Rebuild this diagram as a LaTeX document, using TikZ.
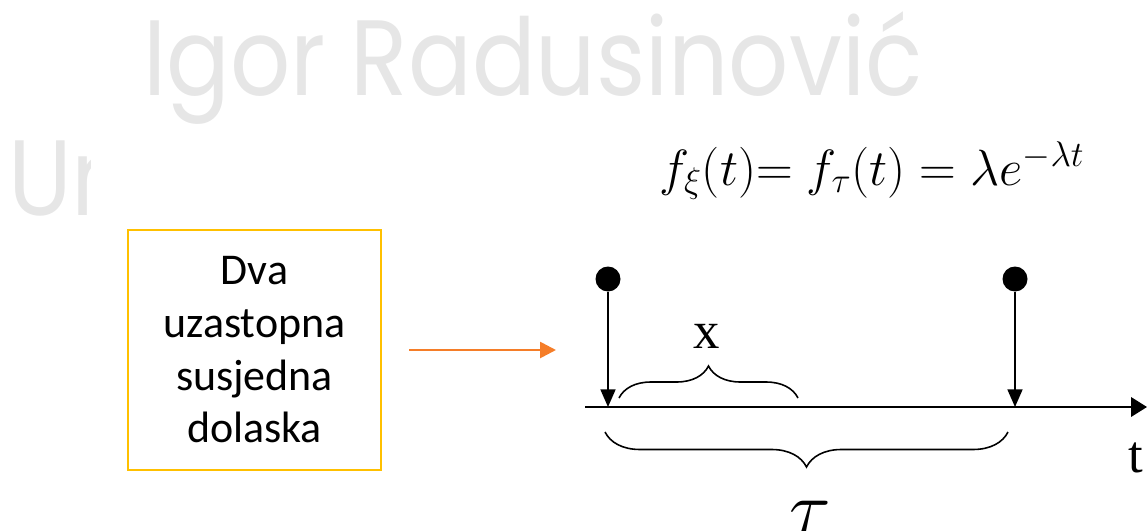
\RequirePackage{fix-cm}
\documentclass[tikz,border=0pt]{standalone}
\usepackage{amsmath}
\usepackage{fontspec}
\usepackage{xcolor}
\usepackage{tikz}
\usetikzlibrary{positioning,arrows.meta,calc,decorations.pathreplacing}
\newfontfamily\boxfont{Carlito}
\newfontfamily\markfont{Poppins}
\newfontfamily\labfont{Liberation Serif}
\definecolor{boxgold}{RGB}{255,192,0}
\definecolor{arrorange}{RGB}{245,125,40}
\definecolor{markgray}{RGB}{230,230,230}

\begin{document}
\begin{tikzpicture}[x=0.02cm, y=-0.02cm,
  dot/.style={circle, fill=black, inner sep=0pt, minimum size=0.5cm},
  drop/.style={-{Triangle[length=10pt,width=8.5pt]}, line width=1pt},
  curly/.style={decorate, decoration={brace, amplitude=#1}, line width=0.9pt},
  watermark/.style={markgray, font=\markfont\fontsize{61}{61}\selectfont, anchor=base west,
    inner sep=0pt, xscale=0.88, transform shape}
]
\useasboundingbox (0,0) rectangle (1147,531);
% watermark
\node[watermark] (markA) at (143,95) {Igor Radusinović};
\begin{scope}
  \clip (0,120) rectangle (90,240);
  \node[watermark] (markB) at (8,215) {Un};
\end{scope}
% density
\node[anchor=base, font=\fontsize{29}{34}\selectfont] (pdf) at (872,185)
  {$f_{\xi}(t){=}\;f_{\tau}(t) = \lambda e^{-\lambda t}$};
% box with arrow
\node[draw=boxgold, line width=1.4pt, minimum width=5.06cm, minimum height=4.8cm,
  align=center, font=\boxfont\fontsize{25}{30}\selectfont] (pair) at (254.5,350)
  {Dva\\uzastopna\\susjedna\\dolaska};
\coordinate (goal) at (556,350);
\draw[-{Triangle[length=9pt,width=9pt]}, arrorange, line width=1.5pt, shorten <=0.54cm] (pair.east) -- (goal);
% time axis
\coordinate (t0) at (585,407);
\coordinate (tend) at (1147,407);
\draw[-{Triangle[length=9pt,width=11pt]}, line width=1.1pt] (t0) -- (tend);
\node[anchor=base, font=\labfont\fontsize{30}{30}\selectfont, inner sep=0pt] (tlab) at (1136,472) {t};
% two arrivals
\node[dot] (arrA) at (608,279) {};
\node[dot] (arrB) at (1015,279) {};
\coordinate (hitA) at (608,407);
\coordinate (hitB) at (1015,407);
\draw[drop] (arrA) -- (hitA);
\draw[drop] (arrB) -- (hitB);
% braces
\draw[curly=0.64cm] (619,398) -- (798,398);
\node[anchor=base, font=\labfont\fontsize{30}{30}\selectfont, inner sep=0pt] (xlab) at (707,348) {x};
\draw[curly=0.7cm] (1008,432) -- (605,432);
\node[anchor=base, font=\fontsize{44}{44}\selectfont, inner sep=0pt] (taulab) at (810,534) {$\tau$};
\end{tikzpicture}
\end{document}
